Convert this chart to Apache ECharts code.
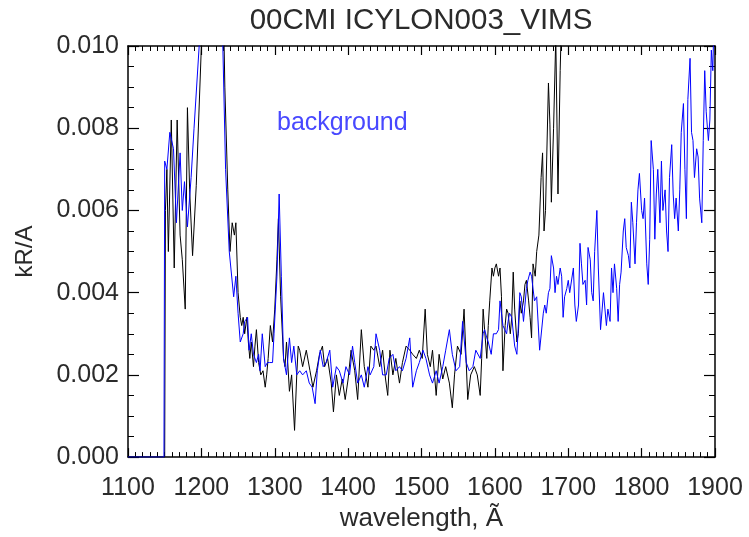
<!DOCTYPE html>
<html>
<head>
<meta charset="utf-8">
<script src="https://cdn.jsdelivr.net/npm/echarts@6/dist/echarts.min.js"></script>
<style>
html,body{margin:0;padding:0;background:#fff;}
#chart{width:749px;height:537px;}
</style>
</head>
<body>
<div id="chart"></div>
<script>
// ---- data ----
const titleText = "00CMI ICYLON003_VIMS";
const xAxisTitle = "wavelength, Ã";
const yAxisTitle = "kR/A";
const legendNote = "background";
const xTicks = [1100, 1200, 1300, 1400, 1500, 1600, 1700, 1800, 1900];
const yTicks = [0.000, 0.002, 0.004, 0.006, 0.008, 0.010];

// observed spectrum (black): [wavelength Å, kR/A]
const observed = [
[1100,0],[1150,0],[1151,0.0060],[1153,0.0070],[1155,0.0050],[1159,0.0082],[1163,0.0046],[1167,0.0082],[1171,0.0054],[1174,0.0048],
[1178,0.0036],[1181,0.0085],[1184,0.0065],[1188,0.0049],[1193,0.0066],[1200,0.0100],[1205,0.0120],[1220,0.0120],[1230,0.0110],[1232,0.0090],
[1236,0.0065],[1239,0.0050],[1242,0.0057],[1245,0.0054],[1247,0.0057],[1250,0.0040],[1253,0.0034],[1255,0.0032],[1257,0.0034],[1259,0.0030],
[1262,0.0034],[1264,0.0028],[1266,0.0024],[1268,0.0028],[1271,0.0022],[1273,0.0027],[1275,0.0031],[1278,0.0023],[1281,0.0020],[1284,0.0021],
[1287,0.0017],[1289,0.0020],[1291,0.0024],[1294,0.0032],[1297,0.0028],[1300,0.0036],[1303,0.0048],[1305,0.0058],[1308,0.0039],[1312,0.0024],
[1314,0.0022],[1316,0.0028],[1320,0.0016],[1323,0.0020],[1327,0.00065],[1330,0.0020],[1332,0.0027],[1334,0.0026],[1338,0.0022],[1343,0.0026],
[1348,0.0021],[1352,0.0017],[1357,0.0021],[1361,0.0025],[1365,0.0027],[1368,0.0022],[1372,0.0024],[1377,0.0018],[1380,0.0011],[1384,0.0020],
[1388,0.0015],[1392,0.0019],[1396,0.0014],[1400,0.0019],[1404,0.0026],[1409,0.0021],[1413,0.0014],[1418,0.0031],[1422,0.0022],[1427,0.0017],
[1431,0.0027],[1435,0.0026],[1438,0.0027],[1443,0.0022],[1447,0.0026],[1451,0.0019],[1454,0.0015],[1457,0.0026],[1461,0.0020],[1465,0.0024],
[1470,0.0018],[1474,0.0023],[1479,0.0027],[1484,0.0026],[1488,0.0025],[1493,0.0024],[1497,0.0026],[1501,0.0024],[1505,0.0036],[1508,0.0025],
[1512,0.0022],[1515,0.0026],[1520,0.0015],[1524,0.0025],[1529,0.0019],[1533,0.0022],[1538,0.0018],[1542,0.0012],[1545,0.0020],[1549,0.0027],
[1554,0.0025],[1558,0.0036],[1563,0.0014],[1567,0.0020],[1572,0.0022],[1576,0.0020],[1580,0.0015],[1582,0.0024],[1584,0.0036],[1586,0.0031],
[1589,0.0024],[1591,0.0032],[1593,0.0038],[1596,0.0046],[1598,0.0044],[1600,0.0046],[1602,0.0047],[1605,0.0044],[1607,0.0046],[1609,0.0039],
[1611,0.0021],[1614,0.0032],[1616,0.0036],[1618,0.0035],[1621,0.0030],[1623,0.0034],[1625,0.0045],[1627,0.0036],[1630,0.0028],[1632,0.0030],
[1634,0.0038],[1636,0.0035],[1639,0.0038],[1641,0.0042],[1643,0.0043],[1646,0.0038],[1648,0.0034],[1650,0.0029],[1652,0.0047],[1655,0.0044],
[1657,0.0050],[1660,0.0054],[1663,0.0068],[1665,0.0074],[1667,0.0055],[1669,0.0060],[1673,0.0091],[1675,0.0081],[1677,0.0062],[1680,0.0080],
[1683,0.0102],[1686,0.0064],[1689,0.0094],[1692,0.0115],[1696,0.0130]
];

// background spectrum (blue): [wavelength Å, kR/A]
const background = [
[1100,0],[1149,0],[1150,0.0072],[1153,0.0070],[1157,0.0079],[1162,0.0075],[1166,0.0057],[1171,0.0074],[1174,0.0060],[1177,0.0067],
[1181,0.0056],[1186,0.0068],[1190,0.0080],[1197,0.0100],[1200,0.0110],[1210,0.0125],[1220,0.0125],[1229,0.0102],[1233,0.0070],[1238,0.0050],
[1244,0.0039],[1247,0.0044],[1250,0.0035],[1253,0.0028],[1257,0.0030],[1259,0.0033],[1263,0.0034],[1265,0.0026],[1268,0.0030],[1271,0.0025],
[1275,0.0023],[1278,0.0025],[1280,0.0021],[1283,0.0030],[1287,0.0022],[1290,0.0023],[1293,0.0023],[1297,0.0023],[1299,0.0030],[1303,0.0044],
[1306,0.0064],[1309,0.0044],[1312,0.0024],[1316,0.0020],[1320,0.0029],[1323,0.0023],[1326,0.0027],[1330,0.0020],[1334,0.0021],[1338,0.0020],
[1343,0.0021],[1347,0.0018],[1351,0.0017],[1355,0.0013],[1358,0.0021],[1362,0.0026],[1366,0.0022],[1370,0.0023],[1375,0.0026],[1379,0.0017],
[1384,0.0022],[1388,0.0021],[1393,0.0018],[1397,0.0022],[1402,0.0020],[1406,0.0027],[1409,0.0023],[1413,0.0018],[1418,0.0020],[1422,0.0017],
[1427,0.0022],[1430,0.0020],[1435,0.0022],[1438,0.0030],[1443,0.0026],[1447,0.0020],[1452,0.0020],[1456,0.0024],[1461,0.0025],[1465,0.0021],
[1470,0.0022],[1474,0.0021],[1479,0.0024],[1484,0.0029],[1488,0.0017],[1493,0.0021],[1497,0.0023],[1502,0.0026],[1506,0.0024],[1511,0.0020],
[1515,0.0018],[1520,0.0021],[1524,0.0018],[1529,0.0022],[1533,0.0026],[1538,0.0031],[1542,0.0025],[1547,0.0021],[1552,0.0022],[1556,0.0033],
[1561,0.0023],[1565,0.0021],[1570,0.0022],[1574,0.0026],[1580,0.0024],[1584,0.0030],[1586,0.0031],[1589,0.0029],[1591,0.0028],[1593,0.0028],
[1595,0.0025],[1598,0.0030],[1602,0.0030],[1605,0.0031],[1607,0.0038],[1609,0.0038],[1611,0.0032],[1616,0.0030],[1618,0.0033],[1620,0.0035],
[1623,0.0034],[1625,0.0034],[1627,0.0027],[1630,0.0025],[1632,0.0032],[1634,0.0040],[1636,0.0039],[1639,0.0033],[1641,0.0037],[1643,0.0041],
[1645,0.0043],[1648,0.0045],[1650,0.0044],[1654,0.0038],[1657,0.0039],[1661,0.0026],[1666,0.0035],[1668,0.0037],[1670,0.0035],[1673,0.0040],
[1675,0.0041],[1677,0.0049],[1680,0.0046],[1682,0.0040],[1684,0.0044],[1686,0.0042],[1689,0.0046],[1691,0.0044],[1693,0.0034],[1695,0.0039],
[1698,0.0041],[1700,0.0043],[1702,0.0040],[1707,0.0046],[1709,0.0037],[1711,0.0033],[1714,0.0037],[1716,0.0052],[1718,0.0047],[1720,0.0042],
[1723,0.0043],[1725,0.0037],[1727,0.0051],[1730,0.0048],[1732,0.0040],[1734,0.0038],[1736,0.0050],[1739,0.0060],[1741,0.0046],[1744,0.0031],
[1748,0.0040],[1752,0.0032],[1754,0.0036],[1757,0.0033],[1759,0.0046],[1761,0.0040],[1763,0.0047],[1766,0.0041],[1768,0.0033],[1770,0.0042],
[1772,0.0045],[1775,0.0055],[1777,0.0058],[1779,0.0051],[1782,0.0049],[1784,0.0046],[1786,0.0062],[1788,0.0057],[1791,0.0047],[1793,0.0057],
[1795,0.0065],[1797,0.0069],[1800,0.0060],[1802,0.0058],[1804,0.0063],[1807,0.0047],[1809,0.0042],[1811,0.0053],[1813,0.0077],[1816,0.0070],
[1818,0.0053],[1820,0.0064],[1822,0.0070],[1825,0.0057],[1827,0.0072],[1829,0.0060],[1832,0.0065],[1834,0.0055],[1836,0.0050],[1838,0.0068],
[1841,0.0076],[1843,0.0064],[1845,0.0058],[1847,0.0063],[1850,0.0055],[1852,0.0065],[1854,0.0079],[1857,0.0086],[1859,0.0070],[1861,0.0058],
[1863,0.0087],[1866,0.0097],[1868,0.0079],[1870,0.0077],[1872,0.0068],[1875,0.0075],[1877,0.0073],[1879,0.0063],[1882,0.0057],[1884,0.0077],
[1886,0.0094],[1888,0.0084],[1891,0.0077],[1893,0.0082],[1895,0.0099],[1897,0.0094],[1899,0.0110],[1900,0.0120]
];

// ---- chart ----
const FONT = "Liberation Sans";
const TXT = "#2a2a2a";
const chart = echarts.init(document.getElementById('chart'), null, {renderer: 'canvas'});

function xAx(pos, show) {
  return {
    type: 'value', position: pos, min: xTicks[0], max: xTicks[xTicks.length - 1],
    interval: xTicks[1] - xTicks[0],
    axisLine: {show: true, onZero: false, lineStyle: {color: '#000', width: 1.5}},
    axisTick: {show: true, inside: true, length: 9, lineStyle: {color: '#000', width: 1.2}},
    minorTick: {show: true, splitNumber: 10, length: 5, lineStyle: {color: '#000', width: 1}},
    splitLine: {show: false},
    axisLabel: show ? {show: true, margin: 19, color: TXT, fontFamily: FONT, fontSize: 25,
      formatter: v => String(v)} : {show: false},
    name: show ? xAxisTitle : '', nameLocation: 'middle', nameGap: 47,
    nameTextStyle: {color: TXT, fontFamily: FONT, fontSize: 26}
  };
}
function yAx(pos, show) {
  return {
    type: 'value', position: pos, min: yTicks[0], max: yTicks[yTicks.length - 1],
    interval: yTicks[1] - yTicks[0],
    axisLine: {show: true, onZero: false, lineStyle: {color: '#000', width: 1.5}},
    axisTick: {show: true, inside: true, length: 11, lineStyle: {color: '#000', width: 1.2}},
    minorTick: {show: true, splitNumber: 4, length: 6, lineStyle: {color: '#000', width: 1}},
    splitLine: {show: false},
    axisLabel: show ? {show: true, margin: 9, color: TXT, fontFamily: FONT, fontSize: 25,
      formatter: v => v.toFixed(3)} : {show: false},
    name: show ? yAxisTitle : '', nameLocation: 'middle', nameGap: 91, nameRotate: 90,
    nameTextStyle: {color: TXT, fontFamily: FONT, fontSize: 24}
  };
}

chart.setOption({
  animation: false,
  backgroundColor: '#fff',
  grid: {left: 128, top: 46, right: 34, bottom: 73, containLabel: false},
  xAxis: [xAx('bottom', true), xAx('top', false)],
  yAxis: [yAx('left', true), yAx('right', false)],
  graphic: [
    {type: 'text', x: 421, y: 6,
     style: {text: titleText, fill: TXT, textAlign: 'center', font: '29.5px "Liberation Sans"'}},
    {type: 'text', x: 277, y: 111,
     style: {text: legendNote, fill: '#4848ff', font: '25px "Liberation Sans"'}}
  ],
  series: [
    {type: 'line', name: 'observed', data: observed, xAxisIndex: 0, yAxisIndex: 0,
     showSymbol: false, clip: true, lineStyle: {color: '#000', width: 1}, z: 2},
    {type: 'line', name: 'background', data: background, xAxisIndex: 0, yAxisIndex: 0,
     showSymbol: false, clip: true, lineStyle: {color: '#0000ff', width: 1}, z: 3}
  ]
});
</script>
</body>
</html>
